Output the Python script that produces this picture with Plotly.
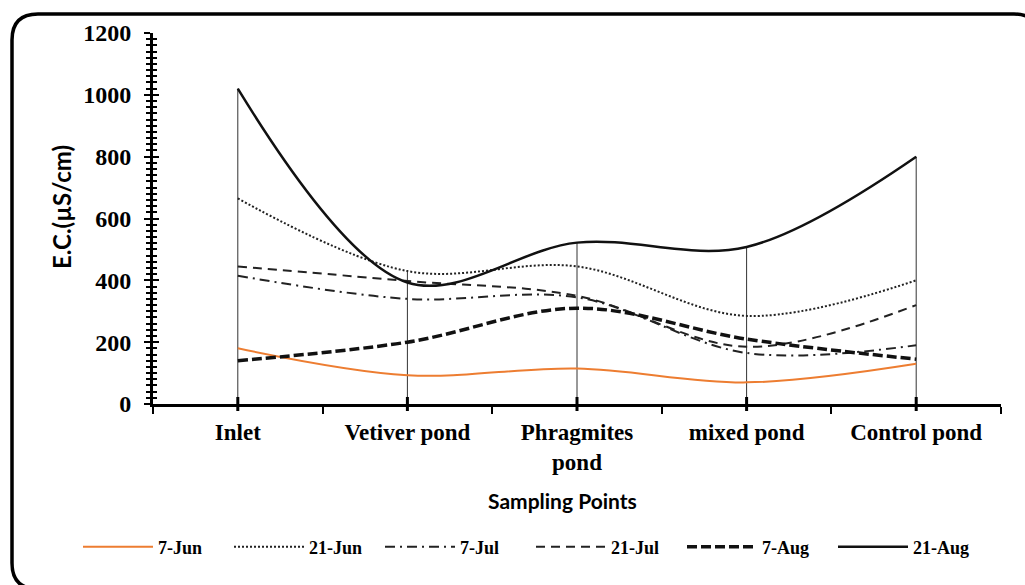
import plotly.graph_objects as go

categories = ["Inlet", "Vetiver pond", "Phragmites<br>pond", "mixed pond", "Control pond"]
jun7 = [180, 93, 115, 70, 130]
jun21 = [665, 430, 445, 285, 400]
jul7 = [415, 340, 345, 165, 190]
jul21 = [445, 398, 350, 185, 320]
aug7 = [140, 200, 310, 210, 145]
aug21 = [1020, 393, 522, 508, 800]

series = [
    ("7-Jun", jun7, dict(color="#ED7D31", width=2)),
    ("21-Jun", jun21, dict(color="#222", width=2, dash="2px,2px")),
    ("7-Jul", jul7, dict(color="#222", width=2, dash="10px,5px,2px,5px")),
    ("21-Jul", jul21, dict(color="#222", width=2, dash="9px,6px")),
    ("7-Aug", aug7, dict(color="#111", width=3.5, dash="10px,4px")),
    ("21-Aug", aug21, dict(color="#111", width=2.5)),
]

fig = go.Figure()

# drop lines from highest series value to the axis
xs, ys = [], []
for i, c in enumerate(categories):
    top = max(s[1][i] for s in series)
    xs += [c, c, None]
    ys += [0, top, None]
fig.add_trace(go.Scatter(x=xs, y=ys, mode="lines", line=dict(color="#333", width=1),
                         showlegend=False, hoverinfo="skip"))
# small marks where drop lines meet the axis
fig.add_trace(go.Scatter(x=categories, y=[0] * len(categories), mode="markers",
                         marker=dict(symbol="line-ns-open", size=10, color="black",
                                     line=dict(color="black", width=3)),
                         showlegend=False, hoverinfo="skip", cliponaxis=False))

for name, vals, ln in series:
    fig.add_trace(go.Scatter(x=categories, y=vals, name=name, mode="lines",
                             line=dict(shape="spline", smoothing=1, **ln)))

# invisible trace so the overlaid tick axis is drawn
fig.add_trace(go.Scatter(x=[categories[0]], y=[0], yaxis="y2", mode="markers",
                         marker=dict(opacity=0), showlegend=False, hoverinfo="skip"))

fig.update_layout(
    width=1025, height=585,
    margin=dict(l=153, r=24, t=33, b=181, autoexpand=False),
    paper_bgcolor="white", plot_bgcolor="white",
    font=dict(family="Liberation Serif", color="black"),
    xaxis=dict(
        type="category", range=[-0.5, 4.5], showline=True, linecolor="black", linewidth=3,
        ticks="outside", tickson="boundaries", ticklen=7, tickwidth=2, tickcolor="black",
        tickfont=dict(family="Liberation Serif", size=23, color="black", weight="bold"),
        ticklabelstandoff=5, automargin=False,
        showgrid=False, zeroline=False,
    ),
    yaxis=dict(
        range=[0, 1200], dtick=200, showline=True, linecolor="black", linewidth=3,
        ticks="outside", ticklen=6, tickwidth=2, tickcolor="black",
        minor=dict(dtick=20, ticks="outside", ticklen=4, tickwidth=2, tickcolor="black"),
        tickfont=dict(family="Liberation Serif", size=24, color="black", weight="bold"),
        ticklabelstandoff=8, automargin=False,
        showgrid=False, zeroline=False,
    ),
    yaxis2=dict(
        range=[0, 1200], dtick=200, overlaying="y", side="left", anchor="x",
        ticks="inside", ticklen=6, tickwidth=2, tickcolor="black",
        minor=dict(dtick=20, ticks="inside", ticklen=4, tickwidth=2, tickcolor="black"),
        showticklabels=False, showgrid=False, zeroline=False, showline=False,
    ),
    legend=dict(
        orientation="h", xref="paper", x=(78 - 153) / 848, xanchor="left",
        yref="paper", y=(404 - 547) / 371, yanchor="middle",
        font=dict(family="Liberation Serif", size=18, color="black", weight="bold"),
        itemwidth=70, entrywidth=66, entrywidthmode="pixels",
    ),
    showlegend=True,
    annotations=[
        dict(text="<b>E.C.(µS/cm)</b>", xref="paper", yref="paper",
             x=(62 - 153) / 848, y=(404 - 207) / 371, textangle=-90, showarrow=False,
             xanchor="center", yanchor="middle", font=dict(family="Lato", size=24, color="black")),
        dict(text="<b>Sampling Points</b>", xref="paper", yref="paper",
             x=(562 - 153) / 848, y=(404 - 500) / 371, showarrow=False,
             xanchor="center", yanchor="middle", font=dict(family="Lato", size=21, color="black")),
    ],
)

# rounded outer border
x0, x1 = (12 - 153) / 848, (1040 - 153) / 848
y0, y1 = (404 - 589) / 371, (404 - 14) / 371
rx, ry = 26 / 848, 26 / 371
path = (f"M{x0+rx},{y1} L{x1-rx},{y1} Q{x1},{y1} {x1},{y1-ry} L{x1},{y0+ry} "
        f"Q{x1},{y0} {x1-rx},{y0} L{x0+rx},{y0} Q{x0},{y0} {x0},{y0+ry} "
        f"L{x0},{y1-ry} Q{x0},{y1} {x0+rx},{y1} Z")
fig.add_shape(type="path", xref="paper", yref="paper", path=path,
              line=dict(color="black", width=3.5), layer="above")

fig.write_html("out.html")
